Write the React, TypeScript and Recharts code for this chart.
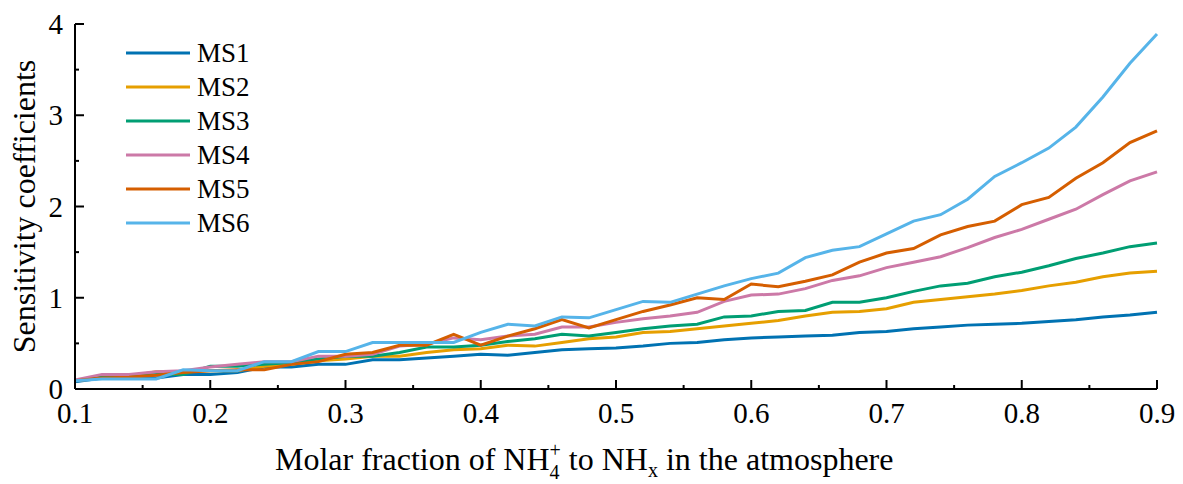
import { Legend, Line, LineChart, XAxis, YAxis } from "recharts";

const xValues = [
  0.1, 0.12, 0.14, 0.16, 0.18, 0.2, 0.22, 0.24, 0.26, 0.28, 0.3, 0.32, 0.34,
  0.36, 0.38, 0.4, 0.42, 0.44, 0.46, 0.48, 0.5, 0.52, 0.54, 0.56, 0.58, 0.6,
  0.62, 0.64, 0.66, 0.68, 0.7, 0.72, 0.74, 0.76, 0.78, 0.8, 0.82, 0.84, 0.86,
  0.88, 0.9,
];

const ms1 = [
  0.08, 0.12, 0.12, 0.12, 0.16, 0.16, 0.18, 0.24, 0.24, 0.27, 0.27, 0.32, 0.32,
  0.34, 0.36, 0.38, 0.37, 0.4, 0.43, 0.44, 0.45, 0.47, 0.5, 0.51, 0.54, 0.56,
  0.57, 0.58, 0.59, 0.62, 0.63, 0.66, 0.68, 0.7, 0.71, 0.72, 0.74, 0.76, 0.79,
  0.81, 0.84,
];
const ms2 = [
  0.09, 0.13, 0.14, 0.19, 0.19, 0.2, 0.2, 0.25, 0.27, 0.31, 0.33, 0.36, 0.36,
  0.4, 0.43, 0.44, 0.48, 0.47, 0.51, 0.55, 0.57, 0.62, 0.63, 0.66, 0.69, 0.72,
  0.75, 0.8, 0.84, 0.85, 0.88, 0.95, 0.98, 1.01, 1.04, 1.08, 1.13, 1.17, 1.23,
  1.27, 1.29,
];
const ms3 = [
  0.09, 0.13, 0.13, 0.16, 0.16, 0.25, 0.25, 0.27, 0.29, 0.33, 0.36, 0.36, 0.4,
  0.46, 0.46, 0.48, 0.52, 0.55, 0.6, 0.58, 0.62, 0.66, 0.69, 0.71, 0.79, 0.8,
  0.85, 0.86, 0.95, 0.95, 1.0, 1.07, 1.13, 1.16, 1.23, 1.28, 1.35, 1.43, 1.49,
  1.56, 1.6,
];
const ms4 = [
  0.1, 0.16, 0.16, 0.19, 0.2, 0.24, 0.27, 0.3, 0.3, 0.36, 0.36, 0.38, 0.47,
  0.49, 0.56, 0.54, 0.58, 0.6, 0.68, 0.68, 0.73, 0.77, 0.8, 0.84, 0.96, 1.03,
  1.04, 1.1, 1.19, 1.24, 1.33, 1.39, 1.45, 1.55, 1.66, 1.75, 1.86, 1.97, 2.13,
  2.28, 2.38,
];
const ms5 = [
  0.09, 0.12, 0.13, 0.15, 0.18, 0.2, 0.21, 0.21, 0.27, 0.3, 0.38, 0.4, 0.48,
  0.48, 0.6, 0.48, 0.58, 0.66, 0.76, 0.67, 0.76, 0.85, 0.92, 1.0, 0.98, 1.15,
  1.12, 1.18, 1.25, 1.39, 1.49, 1.54, 1.69, 1.78, 1.84, 2.02, 2.1, 2.31, 2.48,
  2.7, 2.83,
];
const ms6 = [
  0.09, 0.11, 0.11, 0.11, 0.21, 0.2, 0.2, 0.3, 0.3, 0.41, 0.41, 0.51, 0.51,
  0.51, 0.51, 0.62, 0.71, 0.69, 0.79, 0.78, 0.87, 0.96, 0.95, 1.04, 1.13, 1.21,
  1.27, 1.44, 1.52, 1.56, 1.7, 1.84, 1.91, 2.08, 2.33, 2.48, 2.64, 2.87, 3.2,
  3.57, 3.89,
];

const xTicks = [
  0.1, 0.15, 0.2, 0.25, 0.3, 0.35, 0.4, 0.45, 0.5, 0.55, 0.6, 0.65, 0.7, 0.75,
  0.8, 0.85, 0.9,
];
const yTicks = [0, 0.5, 1, 1.5, 2, 2.5, 3, 3.5, 4];

const series = [
  { key: "MS1", values: ms1, color: "#0072B2" },
  { key: "MS2", values: ms2, color: "#E69F00" },
  { key: "MS3", values: ms3, color: "#009E73" },
  { key: "MS4", values: ms4, color: "#CC79A7" },
  { key: "MS5", values: ms5, color: "#D55E00" },
  { key: "MS6", values: ms6, color: "#56B4E9" },
];

const data = xValues.map((x, i) => {
  const row: any = { x };
  series.forEach((s) => (row[s.key] = s.values[i]));
  return row;
});

const FONT = "'Times New Roman', 'Liberation Serif', serif";

function XTick({ x, y, payload }: any) {
  const v = payload.value;
  const major = Math.round(v * 100) % 10 === 0;
  return (
    <g>
      <line x1={x} x2={x} y1={y} y2={y - (major ? 9 : 4)} stroke="#000" strokeWidth={2} />
      {major && (
        <text x={x} y={y + 34} textAnchor="middle" fontSize={29} fontFamily={FONT} fill="#000">
          {v.toFixed(1)}
        </text>
      )}
    </g>
  );
}

function YTick({ x, y, payload }: any) {
  const v = payload.value;
  const major = Number.isInteger(v);
  return (
    <g>
      <line x1={x} x2={x + (major ? 9 : 4)} y1={y} y2={y} stroke="#000" strokeWidth={2} />
      {major && (
        <text x={x - 12} y={y + 10} textAnchor="end" fontSize={29} fontFamily={FONT} fill="#000">
          {v}
        </text>
      )}
    </g>
  );
}

function XLabel({ viewBox }: any) {
  const x0 = viewBox.x + 200;
  const y0 = viewBox.y + 81;
  return (
    <text x={x0} y={y0} fontSize={32} fontFamily={FONT} fill="#000">
      <tspan>Molar fraction of NH</tspan>
      <tspan fontSize={20} dy={9}>4</tspan>
      <tspan fontSize={20} dx={-10} dy={-22}>+</tspan>
      <tspan dy={13}> to NH</tspan>
      <tspan fontSize={20} dy={7}>x</tspan>
      <tspan dy={-7}> in the atmosphere</tspan>
    </text>
  );
}

function YLabel({ viewBox }: any) {
  const cx = viewBox.x + 35;
  const cy = viewBox.y + viewBox.height / 2;
  return (
    <text
      x={cx}
      y={cy}
      transform={`rotate(-90, ${cx}, ${cy})`}
      textAnchor="middle"
      fontSize={32}
      fontFamily={FONT}
      fill="#000"
    >
      Sensitivity coefficients
    </text>
  );
}

function LegendBox() {
  return (
    <div style={{ fontFamily: FONT }}>
      {series.map((s) => (
        <div key={s.key} style={{ height: 34, display: "flex", alignItems: "center" }}>
          <svg width={64} height={6} style={{ marginRight: 7 }}>
            <line x1={0} x2={64} y1={3} y2={3} stroke={s.color} strokeWidth={3} />
          </svg>
          <span style={{ fontSize: 27, color: "#000", lineHeight: "34px" }}>{s.key}</span>
        </div>
      ))}
    </div>
  );
}

export default function App() {
  return (
    <div style={{ position: "absolute", left: 0, top: 0, background: "#fff" }}>
      <LineChart
        width={1183}
        height={484}
        data={data}
        margin={{ top: 24, right: 26, left: 0, bottom: 0 }}
      >
        <XAxis
          dataKey="x"
          type="number"
          domain={[0.1, 0.9]}
          ticks={xTicks}
          interval={0}
          height={95}
          tickSize={0}
          tickMargin={0}
          tickLine={false}
          axisLine={{ stroke: "#000", strokeWidth: 2 }}
          tick={<XTick />}
          label={<XLabel />}
        />
        <YAxis
          type="number"
          domain={[0, 4]}
          ticks={yTicks}
          interval={0}
          width={75}
          tickSize={0}
          tickMargin={0}
          tickLine={false}
          axisLine={{ stroke: "#000", strokeWidth: 2 }}
          tick={<YTick />}
          label={<YLabel />}
        />
        <Legend
          layout="vertical"
          verticalAlign="middle"
          align="center"
          wrapperStyle={{ left: 126, top: 36, width: "auto" }}
          content={<LegendBox />}
        />
        {series.map((s) => (
          <Line
            key={s.key}
            type="linear"
            dataKey={s.key}
            stroke={s.color}
            strokeWidth={3}
            dot={false}
            activeDot={false}
            isAnimationActive={false}
          />
        ))}
      </LineChart>
    </div>
  );
}
